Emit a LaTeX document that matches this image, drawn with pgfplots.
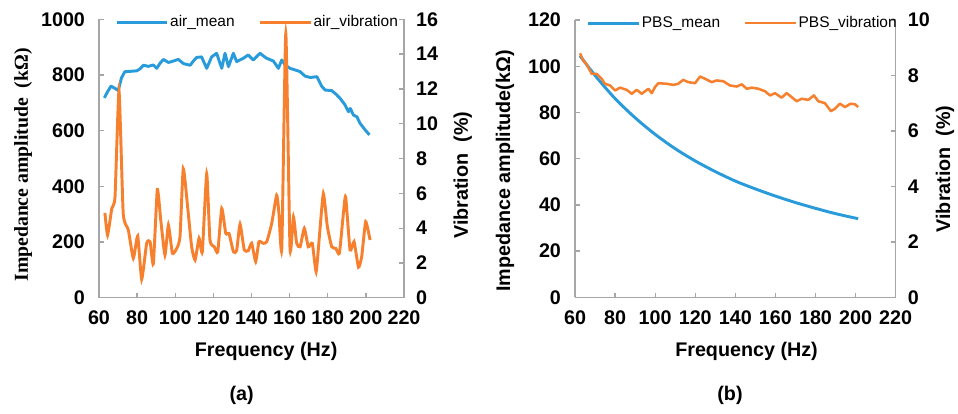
\documentclass[border=0pt]{standalone}
\usepackage{fontspec}
\setmainfont{Liberation Sans}
\newfontfamily\serifbf{Liberation Serif}
\usepackage{pgfplots}
\pgfplotsset{compat=1.18}

\definecolor{cblue}{RGB}{41,155,219}
\definecolor{corange}{RGB}{247,128,46}
\definecolor{axgray}{RGB}{166,166,166}
\newcommand\tkf{\fontsize{14.8}{17}\selectfont\bfseries}
\newcommand\lgf{\fontsize{11.6}{14}\selectfont}

\pgfplotsset{
  base/.style={
    scale only axis,
    xmin=60, xmax=220,
    xtick={60,80,...,220},
    enlargelimits=false,
    tick align=inside,
    major tick length=3.5pt,
    axis line style={axgray, line width=1pt},
    every tick/.style={axgray, line width=1pt},
    tick label style={font=\tkf},
    label style={font=\tkf},
    /pgf/number format/assume math mode=true,
    /pgf/number format/1000 sep={},
    xticklabel style={yshift=-6.3pt},
  },
  lefty/.style={axis x line*=bottom, axis y line*=left, yticklabel style={xshift=-7pt}},
  righty/.style={axis x line=none, axis y line*=right, yticklabel style={xshift=5.6pt}},
  leg/.style={
    legend columns=2,
    legend style={draw=none, fill=none, inner sep=0pt, anchor=west, font=\lgf,
      nodes={inner sep=1pt},
      /tikz/every even column/.append style={column sep=17pt}},
    legend image code/.code={\draw[##1] (0pt,0pt) -- (38pt,0pt);},
  },
}

\begin{document}
\begin{tikzpicture}
\path[use as bounding box] (0,0) rectangle (718.5pt,310.5pt);

% ---- (a) air ----
\begin{axis}[base, lefty,
    at={(74.25pt,87.15pt)}, anchor=south west,
    width=228.75pt, height=208.875pt,
    ymin=0, ymax=1000, ytick={0,200,...,1000},
    ylabel={\serifbf\bfseries Impedance amplitude~~(kΩ)},
    ylabel style={at={(axis description cs:-0.249,0.477)}, anchor=center},
    xlabel={Frequency (Hz)},
    xlabel style={at={(axis description cs:0.548,-0.194)}, anchor=center},
]
\addplot[cblue, line width=2.2pt, line join=round] coordinates {
(62.8,718) (64.5,740) (66.3,760) (68.4,752) (70.1,744) (71.8,790) (73.6,812)
(76.2,813) (79.8,815) (81.5,822) (83.3,835) (85.9,831) (88.5,836) (90.3,824)
(92,842) (93.8,856) (96.4,845) (99,850) (101.6,856) (104.3,841) (106,838)
(107.8,835) (109.5,850) (111.2,863) (113.8,865) (116.5,824) (119.1,865)
(121.7,878) (124.4,824) (126.1,878) (127.9,830) (130.5,878) (132.2,848)
(135.7,860) (138.3,872) (140.9,854) (142.7,866) (144.5,878) (146.3,868)
(148,860) (151.5,850) (154.1,824) (155.9,854) (157.7,836) (160.2,824)
(162,820) (165.5,812) (168.1,796) (170.8,791) (174.3,794) (176.8,760)
(178.6,746) (182.1,744) (184.5,730) (186.5,716) (189.1,692) (190.9,668)
(191.8,680) (193.5,656) (195.3,650) (196.9,627) (199.6,603) (201.9,585)
};
\end{axis}
\begin{axis}[base, righty, leg,
    at={(74.25pt,87.15pt)}, anchor=south west,
    width=228.75pt, height=208.875pt,
    ymin=0, ymax=16, ytick={0,2,...,16},
    ylabel={Vibration~~(\%)},
    ylabel style={at={(axis description cs:1.193,0.44)}, anchor=center},
    legend style={at={(axis description cs:0.0525,0.99)}},
]
\addlegendimage{cblue, line width=2.2pt}
\addlegendentry{air\_mean}
\addplot[corange, line width=2.2pt, smooth, tension=0.3] coordinates {
(63.1,4.88) (64.5,3.60) (66.7,5.13) (68.4,5.80) (70.5,11.9) (72.7,4.85)
(75.4,3.89) (78,2.27) (80.3,3.55) (82.4,1.07) (85,3.13) (86.8,3.22)
(88.5,1.95) (90.6,6.22) (92.4,4.46) (94.6,2.46) (96.4,4.18) (98.5,2.56)
(100.8,2.84) (102.5,3.51) (104.2,7.42) (106.5,5.22) (108.6,2.93) (110.4,2.17)
(112.5,3.42) (114.2,2.65) (116.5,7.13) (118.2,3.32) (120.5,2.93) (122.3,2.65)
(124.4,5.13) (126.5,3.70) (128.2,3.70) (130.5,2.65) (132.2,2.71) (134,4.23)
(136.2,2.75) (138.3,2.71) (140.1,3.13) (142.2,2.08) (143.9,3.22) (146.2,3.13)
(148,3.22) (150.6,4.27) (153.2,5.89) (154.4,4.85) (155.9,2.84) (158,15.2)
(160.2,2.84) (162,4.65) (163.7,3.13) (165.5,2.93) (167.7,3.99) (169.8,2.93)
(171.9,3.13) (173.9,1.50) (175.6,3.51) (177.7,5.99) (179.8,4.08) (182.1,2.93)
(184.2,2.84) (186.1,2.56) (188.2,4.85) (189.4,5.80) (191.7,2.75) (193.8,3.22)
(196.1,1.76) (197.8,2.36) (199.9,4.37) (202.2,3.32)
};
\addlegendentry{air\_vibration}
\end{axis}

% ---- (b) PBS ----
\begin{axis}[base, lefty,
    at={(431.25pt,87.525pt)}, anchor=south west,
    width=240.5pt, height=207.98pt,
    ymin=0, ymax=120, ytick={0,20,...,120},
    ylabel={Impedance amplitude(kΩ)},
    ylabel style={at={(axis description cs:-0.218,0.455)}, anchor=center},
    xlabel={Frequency (Hz)},
    xlabel style={at={(axis description cs:0.535,-0.196)}, anchor=center},
]
\addplot[cblue, line width=2.2pt, smooth] coordinates {
(62.5,104.5) (70,96.0) (80,86.0) (90,77.7) (100,70.5) (110,64.3) (120,59.0)
(130,54.4) (140,50.3) (150,46.9) (160,43.8) (170,41.0) (180,38.5) (190,36.2)
(201.3,34.0)
};
\end{axis}
\begin{axis}[base, righty, leg,
    at={(431.25pt,87.525pt)}, anchor=south west,
    width=240.5pt, height=207.98pt,
    ymin=0, ymax=10, ytick={0,2,...,10},
    ylabel={Vibration~~(\%)},
    ylabel style={at={(axis description cs:1.154,0.463)}, anchor=center},
    legend style={at={(axis description cs:0.0365,0.989)}},
]
\addlegendimage{cblue, line width=2.2pt}
\addlegendentry{PBS\_mean}
\addplot[corange, line width=1.9pt, line join=round] coordinates {
(62.5,8.80) (64.1,8.54) (65.8,8.40) (68.3,8.06) (70.8,8.06) (73.3,7.88)
(74.9,7.70) (77.5,7.64) (80,7.46) (82.5,7.56) (85.8,7.48) (88.3,7.34)
(90.8,7.48) (93.3,7.34) (96.6,7.52) (98.3,7.36) (99.9,7.58) (101.6,7.72)
(105.7,7.70) (109.1,7.66) (111.5,7.70) (114,7.84) (116.5,7.76) (119.9,7.72)
(122.4,7.96) (124.9,7.88) (128.2,7.76) (130.7,7.82) (134,7.79) (137.3,7.64)
(140.7,7.60) (143.2,7.68) (145.7,7.52) (148.2,7.56) (151.5,7.52) (154.8,7.43)
(157.3,7.28) (159.8,7.36) (163.1,7.20) (165.6,7.36) (168.1,7.22) (170.6,7.07)
(173.1,7.16) (176.4,7.12) (179.2,7.28) (181.4,7.07) (184.7,7.00) (187.7,6.71)
(189.7,6.80) (192.2,6.98) (194.7,6.86) (197.5,6.98) (199.7,6.96) (201.3,6.86)
};
\addlegendentry{PBS\_vibration}
\end{axis}

\node[font=\tkf] at (181.3pt,14.25pt) {(a)};
\node[font=\tkf] at (547.5pt,14.25pt) {(b)};
\end{tikzpicture}
\end{document}
